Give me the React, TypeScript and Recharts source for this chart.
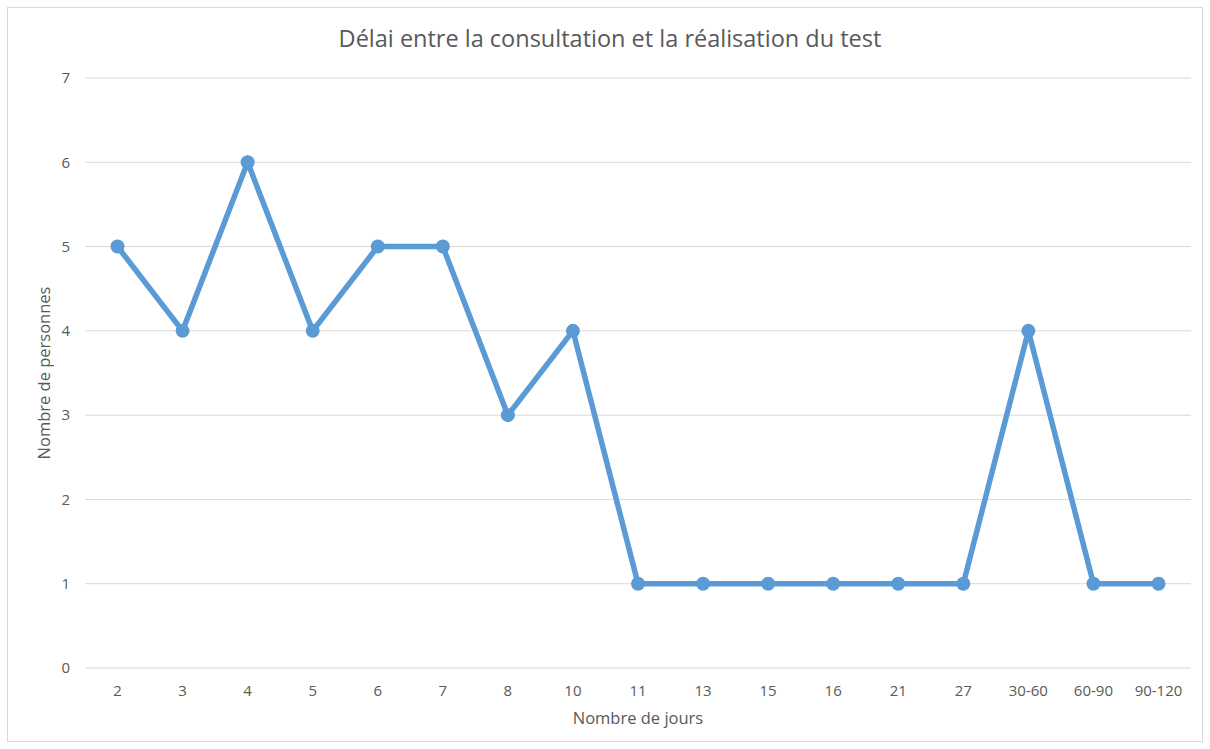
import React from "react";
import { LineChart, Line, XAxis, YAxis, CartesianGrid } from "recharts";

const categories: string[] = [
  "2", "3", "4", "5", "6", "7", "8", "10", "11", "13", "15", "16", "21", "27", "30-60", "60-90", "90-120",
];
const personnes: number[] = [5, 4, 6, 4, 5, 5, 3, 4, 1, 1, 1, 1, 1, 1, 4, 1, 1];
const yTicks: number[] = [0, 1, 2, 3, 4, 5, 6, 7];

const data = categories.map((jours, i) => ({ jours, personnes: personnes[i] }));

const FONT = "'Open Sans', 'Noto Sans', sans-serif";
const TEXT = "#595959";
const BLUE = "#5B9BD5";

const App: React.FC = () => {
  return (
    <div
      style={{
        position: "absolute",
        left: 0,
        top: 0,
        width: 1210,
        height: 749,
        background: "#fff",
        fontFamily: FONT,
      }}
    >
      <div
        style={{
          position: "absolute",
          left: 7,
          top: 7,
          width: 1196,
          height: 735,
          border: "1px solid #d9d9d9",
          boxSizing: "border-box",
        }}
      />
      <div
        style={{
          position: "absolute",
          left: 0,
          width: 1220,
          top: 22,
          textAlign: "center",
          fontSize: 23.5,
          color: TEXT,
        }}
      >
        Délai entre la consultation et la réalisation du test
      </div>
      <div style={{ position: "absolute", left: 0, top: 0 }}>
        <LineChart
          width={1210}
          height={749}
          data={data}
          margin={{ top: 78, right: 19, bottom: 51, left: 0 }}
        >
          <CartesianGrid vertical={false} stroke="#d9d9d9" strokeWidth={1} />
          <XAxis
            dataKey="jours"
            axisLine={false}
            tickLine={false}
            height={30}
            tickMargin={11}
            interval={0}
            padding={{ left: 32.5, right: 32.5 }}
            tick={{ fill: TEXT, fontSize: 15, fontFamily: FONT }}
            label={{
              value: "Nombre de jours",
              position: "insideBottom",
              offset: -26,
              fill: TEXT,
              fontSize: 16.5,
              fontFamily: FONT,
            }}
          />
          <YAxis
            domain={[0, 7]}
            ticks={yTicks}
            axisLine={false}
            tickLine={false}
            width={85}
            tickMargin={9}
            tick={{ fill: TEXT, fontSize: 15, fontFamily: FONT }}
            label={{
              value: "Nombre de personnes",
              angle: -90,
              position: "insideLeft",
              offset: 44,
              style: { textAnchor: "middle" },
              fill: TEXT,
              fontSize: 16.5,
              fontFamily: FONT,
            }}
          />
          <Line
            type="linear"
            dataKey="personnes"
            stroke={BLUE}
            strokeWidth={5.5}
            dot={{ r: 7, fill: BLUE, stroke: BLUE, strokeWidth: 0 }}
            isAnimationActive={false}
          />
        </LineChart>
      </div>
    </div>
  );
};

export default App;
